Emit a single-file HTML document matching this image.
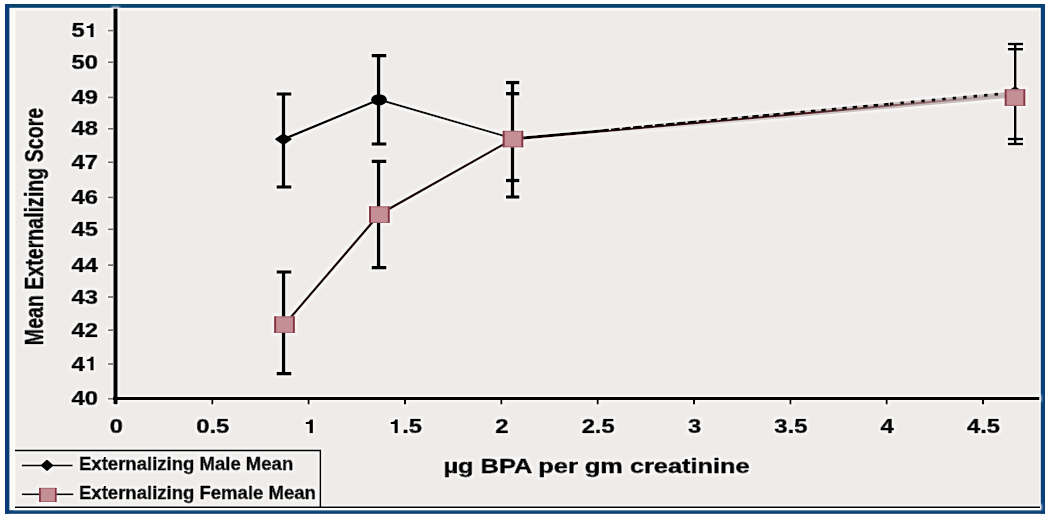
<!DOCTYPE html>
<html><head><meta charset="utf-8">
<style>
html,body{margin:0;padding:0;background:#fff;}
body{width:1050px;height:517px;overflow:hidden;}
svg{display:block;}
text{font-family:"Liberation Sans",sans-serif;font-weight:bold;fill:#000;stroke:#000;stroke-width:0.75px;stroke-linejoin:round;}
</style></head>
<body>
<svg width="1050" height="517" viewBox="0 0 1050 517">
<rect x="0" y="0" width="1050" height="517" fill="#fff"/>
<!-- inner background -->
<rect x="9" y="7.8" width="1032" height="502.4" fill="#fbfbf5"/>
<rect x="15.5" y="10.5" width="1023.5" height="495.5" fill="#eeebe8"/>
<!-- outer border -->
<rect x="5" y="4" width="1040" height="3.8" fill="#06436f"/>
<rect x="5" y="510.2" width="1040" height="3.6" fill="#08406f"/>
<rect x="5" y="4" width="4.4" height="509.8" fill="#0b3c7a"/>
<rect x="1040.8" y="4" width="4.2" height="509.8" fill="#0b3f78"/>

<defs>
<filter id="halo" x="-2%" y="-2%" width="104%" height="104%">
<feMorphology in="SourceAlpha" operator="dilate" radius="1.6" result="d"/>
<feGaussianBlur in="d" stdDeviation="0.9" result="db"/>
<feFlood flood-color="#ffffff" flood-opacity="0.75"/>
<feComposite in2="db" operator="in" result="h"/>
<feGaussianBlur in="SourceGraphic" stdDeviation="0.45" result="sg"/>
<feMerge><feMergeNode in="h"/><feMergeNode in="sg"/></feMerge>
</filter>

<linearGradient id="gband" gradientUnits="userSpaceOnUse" x1="513" y1="0" x2="1005" y2="0">
<stop offset="0" stop-color="#c4bab8" stop-opacity="0"/>
<stop offset="0.15" stop-color="#c4bab8" stop-opacity="0"/>
<stop offset="0.55" stop-color="#c4bab8" stop-opacity="0.8"/>
<stop offset="1" stop-color="#c4b8b7" stop-opacity="1"/>
</linearGradient>
<linearGradient id="gred" gradientUnits="userSpaceOnUse" x1="513" y1="0" x2="1005" y2="0">
<stop offset="0" stop-color="#2a0508" stop-opacity="1"/>
<stop offset="0.6" stop-color="#4a0d14" stop-opacity="1"/>
<stop offset="0.85" stop-color="#6a2028" stop-opacity="0.5"/>
<stop offset="1" stop-color="#6a2028" stop-opacity="0"/>
</linearGradient>
</defs>
<g filter="url(#halo)">
<!-- axes -->
<line x1="115.5" y1="8.5" x2="115.5" y2="404" stroke="#000" stroke-width="4.5"/>
<line x1="113" y1="398.5" x2="1039.5" y2="398.5" stroke="#000" stroke-width="3"/>

<!-- y ticks -->
<g stroke="#707070" stroke-width="1.8">
<line x1="108" y1="30.6" x2="113" y2="30.6"/>
<line x1="108" y1="62.2" x2="113" y2="62.2"/>
<line x1="108" y1="97.4" x2="113" y2="97.4"/>
<line x1="108" y1="128.8" x2="113" y2="128.8"/>
<line x1="108" y1="162.2" x2="113" y2="162.2"/>
<line x1="108" y1="197.4" x2="113" y2="197.4"/>
<line x1="108" y1="229.3" x2="113" y2="229.3"/>
<line x1="108" y1="265.1" x2="113" y2="265.1"/>
<line x1="108" y1="297" x2="113" y2="297"/>
<line x1="108" y1="330.1" x2="113" y2="330.1"/>
<line x1="108" y1="364" x2="113" y2="364"/>
<line x1="108" y1="398.8" x2="113" y2="398.8"/>
</g>
<!-- x ticks -->
<g stroke="#000" stroke-width="2.2">
<line x1="115.9" y1="400" x2="115.9" y2="404.5"/>
<line x1="212.3" y1="400" x2="212.3" y2="404.5"/>
<line x1="308.6" y1="400" x2="308.6" y2="404.5"/>
<line x1="405" y1="400" x2="405" y2="404.5"/>
<line x1="501.3" y1="400" x2="501.3" y2="404.5"/>
<line x1="597.7" y1="400" x2="597.7" y2="404.5"/>
<line x1="694" y1="400" x2="694" y2="404.5"/>
<line x1="790.4" y1="400" x2="790.4" y2="404.5"/>
<line x1="886.7" y1="400" x2="886.7" y2="404.5"/>
<line x1="983" y1="400" x2="983" y2="404.5"/>
</g>

<!-- y labels -->
<g font-size="19.8">
<text transform="translate(71.58,37.2) scale(1.2,1)">5</text>
<path transform="translate(84.79,37.2) scale(0.02376,-0.01980)" d="M378,0 L378,710 L262,710 C246,650 214,600 160,580 C125,567 95,563 69,562 L69,468 L228,468 L228,0 Z"/>
<text transform="translate(71.58,68.8) scale(1.2,1)">50</text>
<text transform="translate(71.58,104.0) scale(1.2,1)">49</text>
<text transform="translate(71.58,135.4) scale(1.2,1)">48</text>
<text transform="translate(71.58,168.8) scale(1.2,1)">47</text>
<text transform="translate(71.58,204.0) scale(1.2,1)">46</text>
<text transform="translate(71.58,235.9) scale(1.2,1)">45</text>
<text transform="translate(71.58,271.7) scale(1.2,1)">44</text>
<text transform="translate(71.58,303.6) scale(1.2,1)">43</text>
<text transform="translate(71.58,336.7) scale(1.2,1)">42</text>
<text transform="translate(71.58,370.6) scale(1.2,1)">4</text>
<path transform="translate(84.79,370.6) scale(0.02376,-0.01980)" d="M378,0 L378,710 L262,710 C246,650 214,600 160,580 C125,567 95,563 69,562 L69,468 L228,468 L228,0 Z"/>
<text transform="translate(71.58,405.4) scale(1.2,1)">40</text>
</g>
<!-- x labels -->
<g font-size="19.8">
<text transform="translate(109.79,433.2) scale(1.2,1)">0</text>
<text transform="translate(196.24,433.2) scale(1.2,1)">0.5</text>
<path transform="translate(303.99,433.2) scale(0.02376,-0.01980)" d="M378,0 L378,710 L262,710 C246,650 214,600 160,580 C125,567 95,563 69,562 L69,468 L228,468 L228,0 Z"/>
<path transform="translate(388.94,433.2) scale(0.02376,-0.01980)" d="M378,0 L378,710 L262,710 C246,650 214,600 160,580 C125,567 95,563 69,562 L69,468 L228,468 L228,0 Z"/>
<text transform="translate(402.15,433.2) scale(1.2,1)">.5</text>
<text transform="translate(495.19,433.2) scale(1.2,1)">2</text>
<text transform="translate(581.64,433.2) scale(1.2,1)">2.5</text>
<text transform="translate(687.89,433.2) scale(1.2,1)">3</text>
<text transform="translate(774.34,433.2) scale(1.2,1)">3.5</text>
<text transform="translate(880.59,433.2) scale(1.2,1)">4</text>
<text transform="translate(967.04,433.2) scale(1.2,1)">4.5</text>
</g>

<!-- axis titles -->
<text font-size="19.5" transform="translate(443.5,472.6) scale(1.3,1)">µg BPA per gm creatinine</text>
<text font-size="19.6" text-anchor="middle" transform="translate(42.8,226.5) rotate(-90) scale(1,1.316)">Mean Externalizing Score</text>

<!-- error bars -->
<g stroke="#000" stroke-width="3.6" fill="none">
<line x1="283.5" y1="94" x2="283.5" y2="187"/>
<line x1="276.5" y1="94" x2="291.5" y2="94"/>
<line x1="276.5" y1="187" x2="291.5" y2="187"/>
<line x1="378.6" y1="55.7" x2="378.6" y2="144"/>
<line x1="371.5" y1="55.7" x2="386.5" y2="55.7"/>
<line x1="371.5" y1="144" x2="386.5" y2="144"/>
<line x1="283.6" y1="272" x2="283.6" y2="373.7"/>
<line x1="276.5" y1="272" x2="291.5" y2="272"/>
<line x1="276.5" y1="373.7" x2="291.5" y2="373.7"/>
<line x1="378.6" y1="161.3" x2="378.6" y2="267.7"/>
<line x1="371.5" y1="161.3" x2="386.5" y2="161.3"/>
<line x1="371.5" y1="267.7" x2="386.5" y2="267.7"/>
<line x1="512.5" y1="82.6" x2="512.5" y2="197"/>
<line x1="506" y1="82.6" x2="519.5" y2="82.6"/>
<line x1="506" y1="93.8" x2="519.5" y2="93.8"/>
<line x1="506" y1="180.5" x2="519.5" y2="180.5"/>
<line x1="506" y1="197" x2="519.5" y2="197"/>
</g>
<g stroke="#000" stroke-width="2.7" fill="none">
<line x1="1015.3" y1="44" x2="1015.3" y2="144"/>
<line x1="1007.8" y1="44" x2="1023" y2="44"/>
<line x1="1007.8" y1="49.3" x2="1023" y2="49.3"/>
<line x1="1007.8" y1="139" x2="1023" y2="139"/>
<line x1="1007.8" y1="144" x2="1023" y2="144"/>
</g>

<!-- series lines -->
<polyline points="283.4,139.2 379,99.6" fill="none" stroke="#000" stroke-width="2.6"/>
<polyline points="379,99.6 513,138.5" fill="none" stroke="#111" stroke-width="2.3"/>
<polyline points="284.5,324.6 379,214.6 513,139" fill="none" stroke="#150505" stroke-width="2.5"/>

<line x1="513" y1="139.5" x2="1005" y2="95.3" stroke="url(#gband)" stroke-width="6"/>
<line x1="513" y1="139.5" x2="1005" y2="95.3" stroke="url(#gred)" stroke-width="2"/>
<line x1="513" y1="138.50" x2="600" y2="130.53" stroke="#000" stroke-width="2.2"/>
<line x1="600" y1="130.53" x2="700" y2="121.36" stroke="#000" stroke-width="2.3" stroke-dasharray="9 2"/>
<line x1="700" y1="121.36" x2="790" y2="113.12" stroke="#000" stroke-width="2.5" stroke-dasharray="6.5 4"/>
<line x1="790" y1="113.12" x2="890" y2="103.95" stroke="#000" stroke-width="2.7" stroke-dasharray="4.5 6"/>
<line x1="890" y1="103.95" x2="1005" y2="93.42" stroke="#000" stroke-width="2.9" stroke-dasharray="3.4 7.1"/>

<!-- markers -->
<g fill="#000" stroke="#000" stroke-width="2.2" stroke-linejoin="round">
<path d="M276.1,139.2 L283.4,134.4 L290.7,139.2 L283.4,144 Z"/>
<ellipse cx="379" cy="99.8" rx="7" ry="4.8"/>
<path d="M505.5,139 L513,134 L520.5,139 L513,144 Z"/>
<path d="M1007.5,92.5 L1015,87.5 L1022.5,92.5 L1015,97.5 Z"/>
</g>
<g>
<rect x="274.2" y="316.4" width="20.6" height="16.5" fill="#c58f96"/><rect x="274.2" y="316.4" width="20.6" height="1.1" fill="#a8646e"/><rect x="274.2" y="331.8" width="20.6" height="1.1" fill="#a8646e"/><rect x="274.2" y="316.4" width="1.9" height="16.5" fill="#86303f"/><rect x="292.9" y="316.4" width="1.9" height="16.5" fill="#86303f"/>
<rect x="369.1" y="206.3" width="20.6" height="16.5" fill="#c58f96"/><rect x="369.1" y="206.3" width="20.6" height="1.1" fill="#a8646e"/><rect x="369.1" y="221.8" width="20.6" height="1.1" fill="#a8646e"/><rect x="369.1" y="206.3" width="1.9" height="16.5" fill="#86303f"/><rect x="387.8" y="206.3" width="1.9" height="16.5" fill="#86303f"/>
<rect x="502.7" y="130.8" width="20.6" height="16.5" fill="#c58f96"/><rect x="502.7" y="130.8" width="20.6" height="1.1" fill="#a8646e"/><rect x="502.7" y="146.2" width="20.6" height="1.1" fill="#a8646e"/><rect x="502.7" y="130.8" width="1.9" height="16.5" fill="#86303f"/><rect x="521.4" y="130.8" width="1.9" height="16.5" fill="#86303f"/>
<rect x="1004.7" y="89.3" width="20.6" height="16.5" fill="#c58f96"/><rect x="1004.7" y="89.3" width="20.6" height="1.1" fill="#a8646e"/><rect x="1004.7" y="104.8" width="20.6" height="1.1" fill="#a8646e"/><rect x="1004.7" y="89.3" width="1.9" height="16.5" fill="#86303f"/><rect x="1023.4" y="89.3" width="1.9" height="16.5" fill="#86303f"/>
</g>

<!-- bottom line -->
<line x1="15" y1="507.2" x2="1040" y2="507.2" stroke="#000" stroke-width="1.7"/>
<!-- legend -->
<path d="M15,450.5 H320.3 V507" fill="none" stroke="#000" stroke-width="1.8"/>
<line x1="21.7" y1="465.4" x2="72.8" y2="465.4" stroke="#000" stroke-width="2"/>
<path d="M42,465.4 L47,460.9 L52,465.4 L47,469.9 Z" fill="#000" stroke="#000" stroke-width="2.4" stroke-linejoin="round"/>
<line x1="21.7" y1="494.2" x2="73.5" y2="494.2" stroke="#000" stroke-width="2"/>
<rect x="39.1" y="487.8" width="17.5" height="14.2" fill="#c58f96"/><rect x="39.1" y="487.8" width="17.5" height="1" fill="#a8646e"/><rect x="39.1" y="501" width="17.5" height="1" fill="#a8646e"/><rect x="39.1" y="487.8" width="1.7" height="14.2" fill="#86303f"/><rect x="54.9" y="487.8" width="1.7" height="14.2" fill="#86303f"/>
<text font-size="18" transform="translate(79,470) scale(1.03,1)">Externalizing Male Mean</text>
<text font-size="18" transform="translate(79,498.5) scale(1.03,1)">Externalizing Female Mean</text>
</g>
</svg>
</body></html>
